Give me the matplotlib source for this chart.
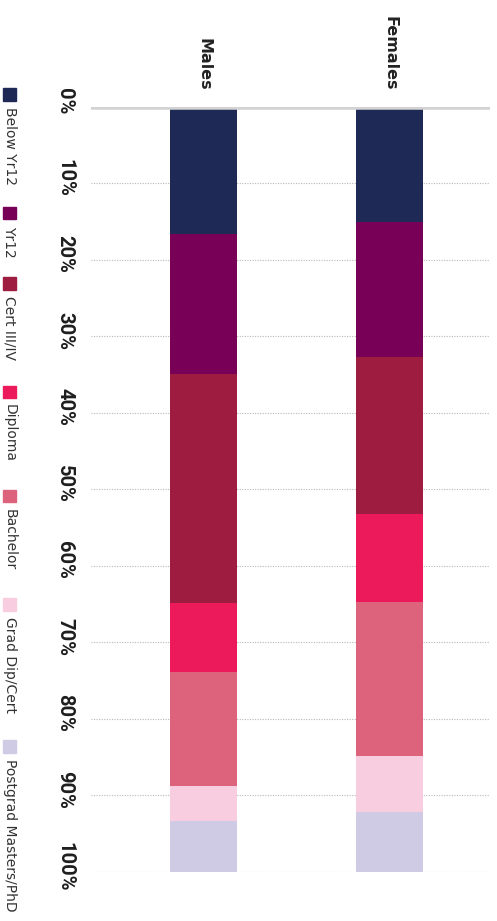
import matplotlib
matplotlib.use("Agg")
import matplotlib.pyplot as plt
from matplotlib.patches import Rectangle
import matplotlib.transforms as mtransforms
import numpy as np

# ---- data ----
categories = ["Males", "Females"]
segments = ["Below Yr12", "Yr12", "Cert III/IV", "Diploma", "Bachelor",
            "Grad Dip/Cert", "Postgrad Masters/PhD"]
males = [16.6, 18.3, 29.9, 9.1, 14.9, 4.5, 6.7]
females = [15.1, 17.6, 20.5, 11.5, 20.1, 7.4, 7.8]
tick_values = [0, 10, 20, 30, 40, 50, 60, 70, 80, 90, 100]
tick_labels = [f"{v}%" for v in tick_values]
colors = ["#1e2a55", "#780056", "#9e1c40", "#ec1a5a", "#dd627c",
          "#f8cde0", "#cfcbe4"]

W, H = 497, 921
fig = plt.figure(figsize=(W / 100, H / 100), dpi=100)
ax = fig.add_axes([91 / W, (H - 872) / H, 399 / W, (872 - 106.8) / H])

x = np.arange(len(categories))
data = np.array([males, females])
bottom = np.zeros(len(categories))
for j, seg in enumerate(segments):
    vals = data[:, j]
    ax.bar(x, vals, bottom=bottom, width=0.36, color=colors[j],
           edgecolor="none", zorder=2)
    bottom += vals

ax.set_xlim(-0.605, 1.54)
ax.set_ylim(100, 0)

# y ticks (rotated) and grid
ax.set_yticks(tick_values)
ax.set_yticklabels(tick_labels, rotation=-90, ha="right", va="center",
                   fontsize=14.5, fontweight="bold", color="#1e1e1e",
                   family=["Roboto", "DejaVu Sans"])
ax.tick_params(axis="y", length=0, pad=12)
shift = mtransforms.ScaledTranslation(0, 4 / 72, fig.dpi_scale_trans)
for lbl in ax.get_yticklabels():
    lbl.set_transform(lbl.get_transform() + shift)
ax.grid(axis="y", color="#b8b8b8", linestyle=(0, (1, 1.3)), linewidth=0.8)
ax.set_axisbelow(True)
ax.axhline(0, color="#d3d3d3", linewidth=4, zorder=3)

# category labels at top
ax.xaxis.tick_top()
ax.set_xticks(x)
ax.set_xticklabels(categories, rotation=-90, ha="center", va="bottom",
                   fontsize=11.5, fontweight="bold", color="#222222",
                   family=["DejaVu Sans"])
ax.tick_params(axis="x", length=0, pad=12)

for s in ax.spines.values():
    s.set_visible(False)

# legend (rotated, drawn manually down the left edge)
legend_tops = [88, 207, 277, 386, 490, 598, 740]  # layout (pixels from top)
sq = 12.5
for j, seg in enumerate(segments):
    y_pix = legend_tops[j]
    fig.patches.append(Rectangle((3 / W, (H - y_pix - sq) / H), sq / W, sq / H,
                                 transform=fig.transFigure, color=colors[j],
                                 figure=fig))
    fig.text(9.5 / W, (H - y_pix - sq - 6) / H, seg, rotation=-90,
             ha="center", va="top", fontsize=10, color="#333333",
             family=["DejaVu Sans"])

fig.savefig("out.png", dpi=100)
